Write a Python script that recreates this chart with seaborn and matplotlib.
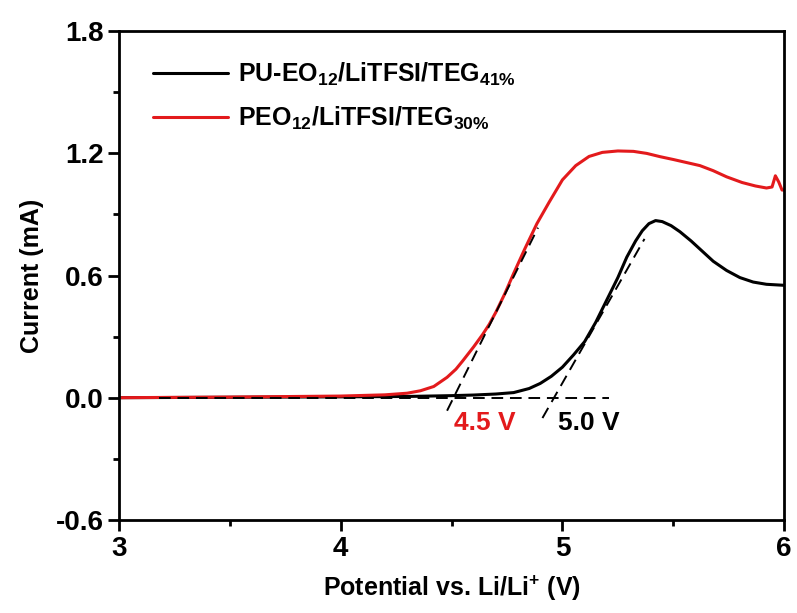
import numpy as np
import pandas as pd
import matplotlib
matplotlib.use("Agg")
import matplotlib.pyplot as plt
import seaborn as sns

# ---- data ----
black_x = [3.0, 3.5, 4.0, 4.3, 4.5, 4.6, 4.7, 4.78, 4.85, 4.9, 4.95, 5.0, 5.05, 5.1,
           5.15, 5.2, 5.25, 5.29, 5.33, 5.36, 5.39, 5.42, 5.45, 5.49, 5.53, 5.58,
           5.63, 5.68, 5.74, 5.8, 5.86, 5.92, 6.0]
black_y = [0.0, 0.002, 0.004, 0.006, 0.01, 0.013, 0.018, 0.025, 0.045, 0.07, 0.105,
           0.15, 0.21, 0.275, 0.37, 0.48, 0.59, 0.69, 0.77, 0.82, 0.855, 0.87, 0.865,
           0.845, 0.815, 0.77, 0.72, 0.67, 0.625, 0.59, 0.568, 0.557, 0.552]

red_x = [3.0, 3.5, 4.0, 4.2, 4.3, 4.36, 4.42, 4.48, 4.52, 4.55, 4.6, 4.64, 4.67, 4.7,
         4.74, 4.78, 4.83, 4.885, 4.94, 5.0, 5.06, 5.12, 5.18, 5.25, 5.32, 5.38,
         5.44, 5.5, 5.56, 5.62, 5.68, 5.74, 5.81, 5.87, 5.92, 5.945, 5.96, 5.975,
         5.99, 6.0]
red_y = [0.0, 0.003, 0.008, 0.014, 0.022, 0.034, 0.055, 0.1, 0.14, 0.18, 0.25, 0.31,
         0.36, 0.42, 0.51, 0.61, 0.73, 0.855, 0.96, 1.07, 1.14, 1.185, 1.205, 1.212,
         1.21, 1.2, 1.184, 1.17, 1.155, 1.14, 1.115, 1.085, 1.057, 1.04, 1.03, 1.035,
         1.09, 1.06, 1.02, 1.02]

series_names = [r'PU-EO$_{12}$/LiTFSI/TEG$_{\mathit{41\%}}$',
                r'PEO$_{12}$/LiTFSI/TEG$_{\mathit{30\%}}$']
series_colors = ['#000000', '#e31a1c']

# tangent / baseline construction lines
base_x = [3.18, 5.21]
base_y = [0.0, 0.0]
red_tan_x = [4.48, 4.89]
red_tan_y = [-0.064, 0.835]
black_tan_x = [4.91, 5.37]
black_tan_y = [-0.10, 0.78]

onset_labels = ['4.5 V', '5.0 V']
onset_label_x = [4.65, 5.12]
onset_label_y = [-0.123, -0.123]

x_ticks = [3, 4, 5, 6]
y_ticks = [-0.6, 0.0, 0.6, 1.2, 1.8]

# ---- styling ----
sns.set_style("ticks", {'axes.edgecolor': 'black', 'text.color': 'black',
                        'axes.labelcolor': 'black', 'xtick.color': 'black',
                        'ytick.color': 'black'})
plt.rcParams['font.family'] = ['Liberation Sans', 'DejaVu Sans']
plt.rcParams['font.weight'] = 'bold'
plt.rcParams['mathtext.fontset'] = 'custom'
plt.rcParams['mathtext.rm'] = 'Liberation Sans:bold'
plt.rcParams['mathtext.it'] = 'Liberation Sans:bold:italic'
plt.rcParams['mathtext.bf'] = 'Liberation Sans:bold'
plt.rcParams['mathtext.default'] = 'rm'

fig = plt.figure(figsize=(7.97, 6.13), dpi=100)
ax = fig.add_axes([0.149, 0.152, 0.835, 0.797])

df = pd.concat([
    pd.DataFrame({'x': black_x, 'y': black_y, 'series': series_names[0]}),
    pd.DataFrame({'x': red_x, 'y': red_y, 'series': series_names[1]}),
])

sns.lineplot(data=df, x='x', y='y', hue='series', palette=series_colors,
             hue_order=series_names, linewidth=2.2, ax=ax, sort=False)

dash = (0, (6, 3.5))
for xs, ys in [(base_x, base_y), (red_tan_x, red_tan_y), (black_tan_x, black_tan_y)]:
    sns.lineplot(x=xs, y=ys, color='black', linewidth=1.4, linestyle=dash,
                 legend=False, ax=ax, sort=False)

for lbl, lx, ly, c in zip(onset_labels, onset_label_x, onset_label_y, ['#e31a1c', 'black']):
    ax.text(lx, ly, lbl, color=c, fontsize=19, fontweight='bold',
            ha='center', va='center')

ax.set_xlim(3, 6)
ax.set_ylim(-0.6, 1.8)
ax.set_xticks(x_ticks)
ax.set_yticks(y_ticks)
ax.set_yticklabels([f'{v:.1f}' for v in y_ticks])
ax.set_xticks([3.5, 4.5, 5.5], minor=True)
ax.set_yticks([-0.3, 0.3, 0.9, 1.5], minor=True)
ax.tick_params(axis='both', which='major', direction='out', length=8, width=2,
               labelsize=20, pad=3, colors='black')
ax.tick_params(axis='x', which='major', pad=4)
ax.tick_params(axis='both', which='minor', direction='out', length=4.5, width=2,
               colors='black')
for lab in ax.get_xticklabels() + ax.get_yticklabels():
    lab.set_fontweight('bold')
for sp in ax.spines.values():
    sp.set_visible(True)
    sp.set_linewidth(2)
    sp.set_color('black')

ax.set_xlabel(r'Potential vs. Li/Li$^{+}$ (V)', fontsize=18, fontweight='bold',
              labelpad=8, color='black')
ax.set_ylabel('Current (mA)', fontsize=18, fontweight='bold', labelpad=8, color='black')

leg = ax.legend(loc='upper left', bbox_to_anchor=(0.025, 0.975), frameon=False,
                fontsize=18, handlelength=3.0, handletextpad=0.4, labelspacing=0.65,
                borderaxespad=0.3)
for h in leg.get_lines():
    h.set_linewidth(2.2)
    h.set_linestyle('-')

fig.savefig('out.png', dpi=100)
